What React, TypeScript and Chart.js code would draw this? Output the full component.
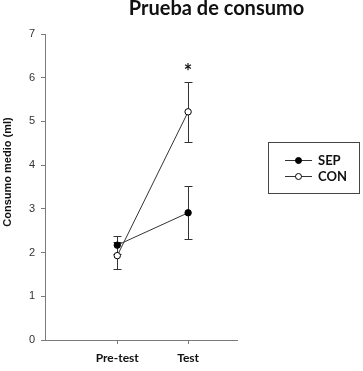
import { useEffect, useRef } from 'react';
import { Chart, registerables } from 'chart.js';

Chart.register(...registerables);

// Group means and standard errors for each session
const categories = ['Pre-test', 'Test'];
const categoryPositions = [1, 2];
const sepMeans = [2.17, 2.91];
const sepErrors = [0.21, 0.61];
const conMeans = [1.93, 5.22];
const conErrors = [0.31, 0.68];
const yTicks = [0, 1, 2, 3, 4, 5, 6, 7];
const seriesNames = ['SEP', 'CON'];
// Significance mark above the Test session
const starPosition = { x: 2, y: 6.2 };

const AXIS_COLOR = '#7a7a7a';
const LINE_COLOR = '#333333';

const toPoints = (values: number[]) =>
  values.map((v, i) => ({ x: categoryPositions[i], y: v }));

const decorations = {
  id: 'decorations',
  beforeDatasetsDraw(chart: any) {
    const { ctx } = chart;
    const xs = chart.scales.x;
    const ys = chart.scales.y;
    const groups = [
      { means: sepMeans, errs: sepErrors },
      { means: conMeans, errs: conErrors },
    ];
    ctx.save();
    ctx.strokeStyle = LINE_COLOR;
    ctx.lineWidth = 1;
    groups.forEach(({ means, errs }) => {
      means.forEach((m, i) => {
        const px = Math.round(xs.getPixelForValue(categoryPositions[i])) + 0.5;
        const top = Math.round(ys.getPixelForValue(m + errs[i])) + 0.5;
        const bot = Math.round(ys.getPixelForValue(m - errs[i])) + 0.5;
        const cap = 4;
        ctx.beginPath();
        ctx.moveTo(px, top);
        ctx.lineTo(px, bot);
        ctx.moveTo(px - cap, top);
        ctx.lineTo(px + cap, top);
        ctx.moveTo(px - cap, bot);
        ctx.lineTo(px + cap, bot);
        ctx.stroke();
      });
    });
    ctx.restore();
  },
  afterDraw(chart: any) {
    const { ctx } = chart;
    const xs = chart.scales.x;
    const ys = chart.scales.y;
    ctx.save();

    // Title
    ctx.fillStyle = '#111';
    ctx.font = 'bold 20px Lato';
    ctx.textAlign = 'center';
    ctx.textBaseline = 'alphabetic';
    ctx.fillText('Prueba de consumo', 216.5, 15);

    // Y axis title
    ctx.save();
    ctx.translate(11, 172);
    ctx.rotate(-Math.PI / 2);
    ctx.font = 'bold 11px "Liberation Sans"';
    ctx.textAlign = 'center';
    ctx.textBaseline = 'alphabetic';
    ctx.fillText('Consumo medio (ml)', 0, 0);
    ctx.restore();

    // Significance asterisk
    ctx.font = 'bold 20px Lato';
    ctx.textAlign = 'center';
    ctx.textBaseline = 'middle';
    ctx.fillText('*', xs.getPixelForValue(starPosition.x), ys.getPixelForValue(starPosition.y) + 4);

    // Legend box
    const bx = 268.5, by = 142.5, bw = 91, bh = 51;
    ctx.strokeStyle = '#444';
    ctx.lineWidth = 1;
    ctx.strokeRect(bx, by, bw, bh);
    const rows = [160, 176];
    seriesNames.forEach((name, i) => {
      const y = rows[i] + 0.5;
      ctx.strokeStyle = LINE_COLOR;
      ctx.beginPath();
      ctx.moveTo(285, y);
      ctx.lineTo(312, y);
      ctx.stroke();
      ctx.beginPath();
      ctx.arc(298.5, y, 3, 0, Math.PI * 2);
      ctx.fillStyle = i === 0 ? '#000' : '#fff';
      ctx.fill();
      ctx.strokeStyle = '#000';
      ctx.stroke();
      ctx.fillStyle = '#111';
      ctx.font = 'bold 13px Lato';
      ctx.textAlign = 'left';
      ctx.textBaseline = 'middle';
      ctx.fillText(name, 318, y);
    });
    ctx.restore();
  },
};

export default function App() {
  const canvasRef = useRef<HTMLCanvasElement | null>(null);

  useEffect(() => {
    if (!canvasRef.current) return;
    const chart = new Chart(canvasRef.current, {
      type: 'scatter',
      data: {
        datasets: [
          {
            label: seriesNames[0],
            data: toPoints(sepMeans),
            showLine: true,
            borderColor: LINE_COLOR,
            borderWidth: 1,
            pointRadius: 3.2,
            pointBackgroundColor: '#000',
            pointBorderColor: '#000',
            pointBorderWidth: 1,
          },
          {
            label: seriesNames[1],
            data: toPoints(conMeans),
            showLine: true,
            borderColor: LINE_COLOR,
            borderWidth: 1,
            pointRadius: 3.2,
            pointBackgroundColor: '#fff',
            pointBorderColor: '#000',
            pointBorderWidth: 1,
          },
        ],
      },
      options: {
        responsive: false,
        animation: false,
        layout: { padding: { left: 0, right: 126, top: 34, bottom: 0 } },
        plugins: {
          legend: { display: false },
          tooltip: { enabled: false },
          title: { display: false },
        },
        scales: {
          x: {
            type: 'linear',
            min: -0.02,
            max: 2.69,
            afterFit: (s: any) => {
              s.height = 31;
            },
            afterBuildTicks: (s: any) => {
              s.ticks = categoryPositions.map((v) => ({ value: v }));
            },
            ticks: {
              callback: (v: any) => categories[categoryPositions.indexOf(Number(v))] ?? '',
              font: { family: 'Lato', size: 12, weight: 'bold' },
              color: '#111',
              padding: 7,
              maxRotation: 0,
            },
            grid: { drawOnChartArea: false, drawTicks: true, tickLength: 4, color: AXIS_COLOR },
            border: { display: true, color: AXIS_COLOR },
          },
          y: {
            min: 0,
            max: 7,
            afterFit: (s: any) => {
              s.width = 45;
            },
            afterBuildTicks: (s: any) => {
              s.ticks = yTicks.map((v) => ({ value: v }));
            },
            ticks: {
              font: { family: 'Liberation Sans', size: 11 },
              color: '#333',
              padding: 6,
            },
            grid: { drawOnChartArea: false, drawTicks: true, tickLength: 4, color: AXIS_COLOR },
            border: { display: true, color: AXIS_COLOR },
          },
        },
      },
      plugins: [decorations],
    });
    return () => chart.destroy();
  }, []);

  return (
    <div style={{ position: 'absolute', left: 0, top: 0, width: 363, height: 371, background: '#fff' }}>
      <canvas ref={canvasRef} width={363} height={371} />
    </div>
  );
}
